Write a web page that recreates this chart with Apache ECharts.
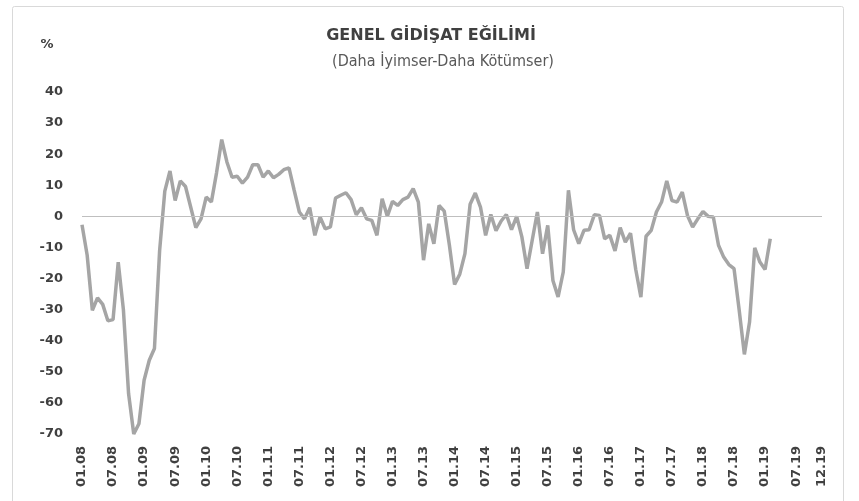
<!DOCTYPE html>
<html>
<head>
<meta charset="utf-8">
<script src="https://cdn.jsdelivr.net/npm/echarts@6/dist/echarts.min.js"></script>
<style>
  html, body { margin: 0; padding: 0; background: #fff; }
  #chart { width: 859px; height: 501px; }
</style>
</head>
<body>
<div id="chart"></div>
<script>
// months 01.08 .. 12.19
let years = ['08','09','10','11','12','13','14','15','16','17','18','19'];
let monthNames = ['01','02','03','04','05','06','07','08','09','10','11','12'];
let categories = [];
years.forEach(y => monthNames.forEach(m => categories.push(m + '.' + y)));

// Genel gidisat egilimi, 01.08 - 02.19
let values = [
  -2.7, -12.5, -30.2, -26.2, -28.3, -33.6, -33.2, -14.7, -30, -57,
  -70, -66.7, -52.7, -46.3, -42.5, -11, 8.1, 14.6, 5.1, 11.4,
  9.6, 3, -3.6, -0.8, 6.2, 4.6, 14, 24.7, 17.5, 12.6,
  12.9, 10.7, 12.6, 16.6, 16.6, 12.6, 14.6, 12.4, 13.5, 15,
  15.6, 8.4, 1.4, -0.8, 2.8, -6.1, -0.2, -4, -3.4, 5.9,
  6.8, 7.6, 5.4, 0.5, 2.8, -0.8, -1.3, -6.1, 5.7, 0,
  4.8, 3.5, 5.4, 6.2, 8.9, 4.6, -14.1, -2.4, -8.8, 3.5,
  1.7, -9.3, -21.9, -18.6, -12, 3.9, 7.5, 3, -6.1, 0.6,
  -4.6, -1.5, 0.6, -4.3, 0, -6.6, -16.8, -7.7, 1.4, -12,
  -2.9, -20.6, -25.9, -17.9, 8.4, -4.3, -8.8, -4.5, -4.3, 0.5,
  0.3, -7.2, -6.1, -11.1, -3.6, -8.3, -5.4, -17, -26, -6.4,
  -4.5, 1.4, 4.6, 11.4, 5.1, 4.6, 7.8, 0.3, -3.4, -0.8,
  1.6, 0, -0.2, -9.3, -13.1, -15.5, -16.8, -30.2, -44.4, -34,
  -10.1, -14.7, -17.1, -7.2
];

let yMin = -70, yMax = 40, yStep = 10;

let myChart = echarts.init(document.getElementById('chart'));

let option = {
    animation: false,
    backgroundColor: '#fff',
    graphic: [
        {
            type: 'rect',
            shape: { x: 12.5, y: 6.5, width: 831, height: 520, r: 2 },
            style: { fill: 'none', stroke: '#d9d9d9', lineWidth: 1 }
        },
        {
            type: 'text', x: 431, y: 36,
            style: {
                text: 'GENEL GİDİŞAT EĞİLİMİ', textAlign: 'center', textVerticalAlign: 'middle',
                font: 'bold 16px "DejaVu Sans"', fill: '#404040'
            }
        },
        {
            type: 'text', x: 443, y: 62,
            style: {
                text: '(Daha İyimser-Daha Kötümser)', textAlign: 'center', textVerticalAlign: 'middle',
                font: '16px "DejaVu Sans Condensed"', fill: '#595959'
            }
        },
        {
            type: 'text', x: 47, y: 45,
            style: {
                text: '%', textAlign: 'center', textVerticalAlign: 'middle',
                font: 'bold 13px "DejaVu Sans"', fill: '#404040'
            }
        }
    ],
    grid: { left: 82, right: 37, top: 92, bottom: 67 },
    xAxis: {
        type: 'category',
        data: categories,
        boundaryGap: false,
        axisLine: { show: false },
        axisTick: { show: false },
        splitLine: { show: false },
        axisLabel: {
            rotate: 90,
            margin: 12,
            color: '#404040',
            fontFamily: 'DejaVu Sans',
            fontWeight: 'bold',
            fontSize: 13,
            interval: (idx) => idx % 6 === 0 || idx === categories.length - 1
        }
    },
    yAxis: {
        type: 'value',
        min: yMin,
        max: yMax,
        interval: yStep,
        axisLine: { show: false },
        axisTick: { show: false },
        splitLine: { show: false },
        axisLabel: {
            margin: 19,
            color: '#404040',
            fontFamily: 'DejaVu Sans',
            fontWeight: 'bold',
            fontSize: 13
        }
    },
    series: [{
        type: 'line',
        data: values,
        symbol: 'none',
        lineStyle: { color: '#a5a5a5', width: 3.5 },
        markLine: {
            silent: true,
            symbol: ['none', 'none'],
            label: { show: false },
            lineStyle: { color: '#bfbfbf', width: 1, type: 'solid' },
            data: [{ yAxis: 0 }]
        }
    }]
};

myChart.setOption(option);
</script>
</body>
</html>
